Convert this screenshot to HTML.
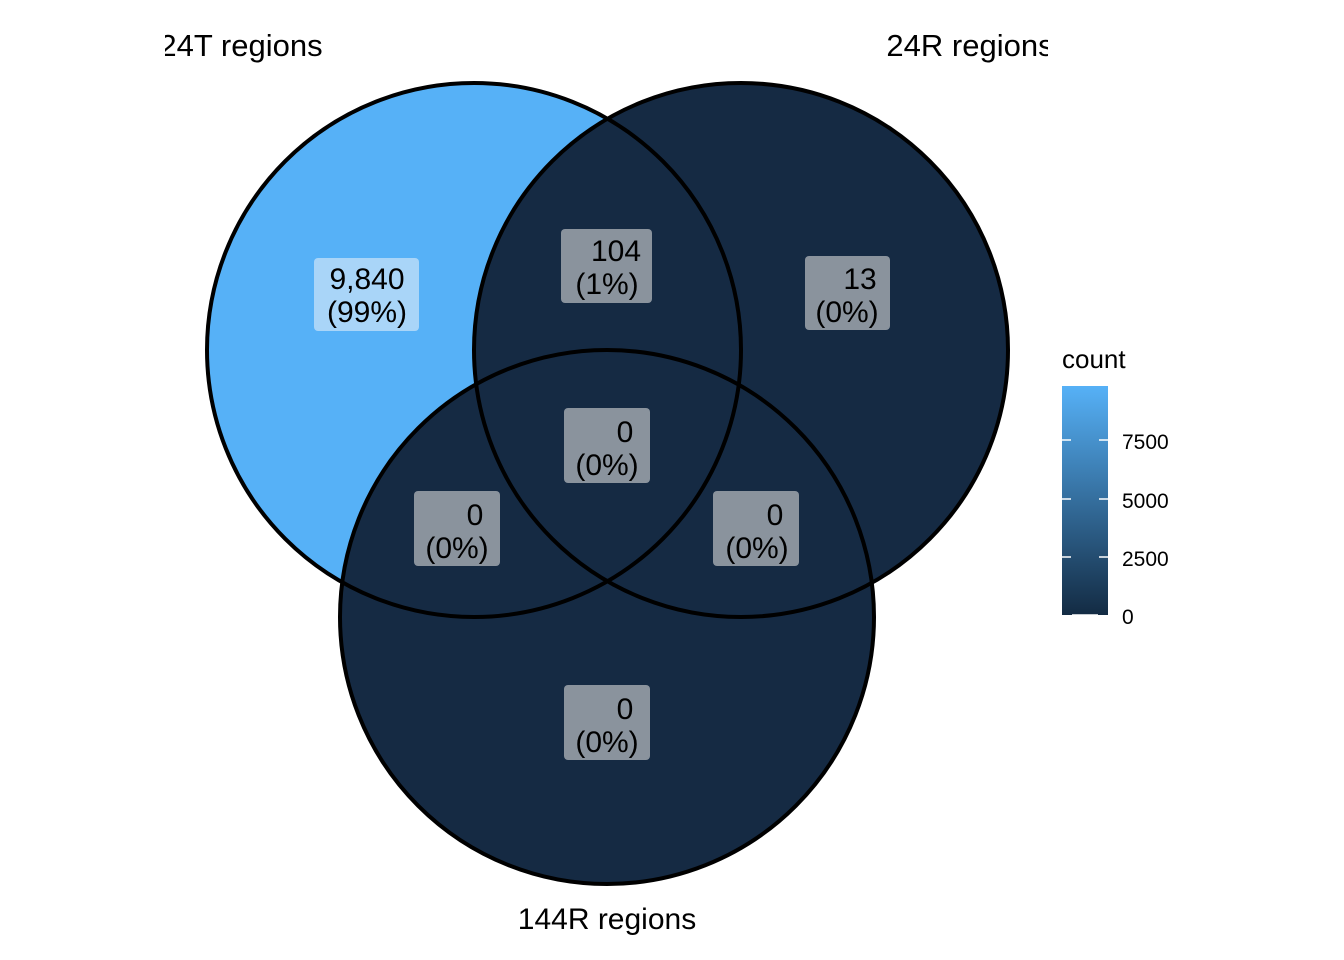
<!DOCTYPE html>
<html><head><style>body{margin:0;background:#fff}svg{display:block}</style></head>
<body>
<svg width="1344" height="960" xmlns="http://www.w3.org/2000/svg" font-family="Liberation Sans, Arial, sans-serif">
<defs>
<clipPath id="cl"><rect x="165" y="0" width="883" height="960"/></clipPath>
<linearGradient id="g" x1="0" y1="1" x2="0" y2="0">
<stop offset="0" stop-color="#132B43"/><stop offset="1" stop-color="#56B1F7"/></linearGradient>
</defs>
<circle cx="474" cy="350" r="267" fill="#56B1F7"/>
<circle cx="741" cy="350" r="267" fill="#152A43"/>
<circle cx="607" cy="617" r="267" fill="#152A43"/>
<g fill="none" stroke="#000" stroke-width="4">
<circle cx="474" cy="350" r="267"/>
<circle cx="741" cy="350" r="267"/>
<circle cx="607" cy="617" r="267"/>
</g>
<g clip-path="url(#cl)" font-size="31" fill="#000">
<text x="241" y="56" text-anchor="middle">24T regions</text>
<text x="970" y="56" text-anchor="middle">24R regions</text>
</g>
<text x="607" y="929" text-anchor="middle" font-size="30">144R regions</text>
<rect x="314" y="258" width="105" height="73" rx="4" fill="#A9D5F8"/>
<rect x="561" y="229" width="91" height="74" rx="4" fill="#8A939D"/>
<rect x="805" y="256" width="85" height="74" rx="4" fill="#8A939D"/>
<rect x="564" y="408" width="86" height="75" rx="4" fill="#8A939D"/>
<rect x="414" y="491" width="86" height="75" rx="4" fill="#8A939D"/>
<rect x="713" y="491" width="86" height="75" rx="4" fill="#8A939D"/>
<rect x="564" y="685" width="86" height="75" rx="4" fill="#8A939D"/>
<g font-size="30" fill="#000" text-anchor="middle">
<text x="367" y="289">9,840</text><text x="367" y="322">(99%)</text>
<text x="616" y="261">104</text><text x="607" y="294">(1%)</text>
<text x="860" y="289">13</text><text x="847" y="322">(0%)</text>
<text x="625" y="442">0</text><text x="607" y="475">(0%)</text>
<text x="475" y="525">0</text><text x="457" y="558">(0%)</text>
<text x="775" y="525">0</text><text x="757" y="558">(0%)</text>
<text x="625" y="719">0</text><text x="607" y="752">(0%)</text>
</g>
<text x="1062" y="368" font-size="26">count</text>
<rect x="1062" y="386" width="46" height="229" fill="url(#g)"/>
<g stroke="#fff" stroke-width="1.5">
<line x1="1062" y1="440" x2="1071" y2="440"/><line x1="1099" y1="440" x2="1108" y2="440"/>
<line x1="1062" y1="499" x2="1071" y2="499"/><line x1="1099" y1="499" x2="1108" y2="499"/>
<line x1="1062" y1="557" x2="1071" y2="557"/><line x1="1099" y1="557" x2="1108" y2="557"/>
<line x1="1072" y1="615" x2="1098" y2="615"/>
</g>
<g font-size="21" fill="#000">
<text x="1122" y="449">7500</text>
<text x="1122" y="508">5000</text>
<text x="1122" y="566">2500</text>
<text x="1122" y="624">0</text>
</g>
</svg>
</body></html>
